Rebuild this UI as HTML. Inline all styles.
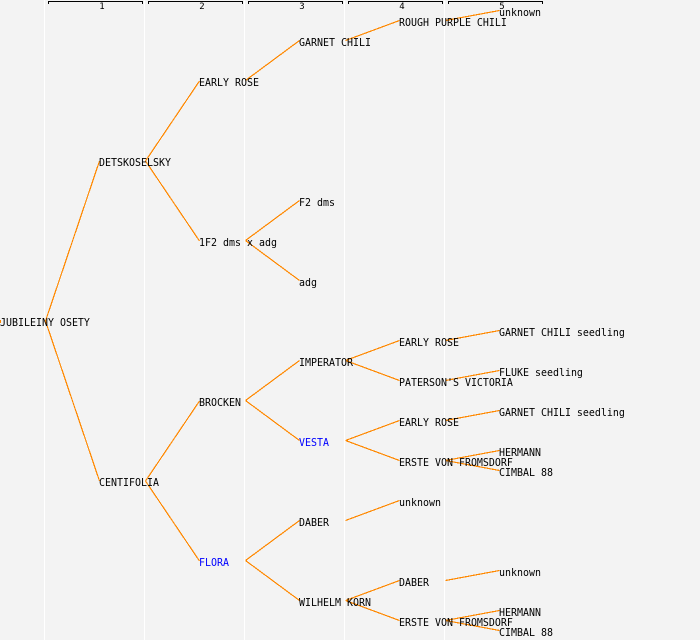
<!DOCTYPE html>
<html>
<head>
<meta charset="utf-8">
<style>
html,body{margin:0;padding:0;background:#f3f3f3;width:700px;height:640px;overflow:hidden}
svg{display:block}
.e line{stroke:#ff8800;stroke-width:1.2;shape-rendering:crispEdges}
.g line{stroke:#fff;stroke-width:1;shape-rendering:crispEdges}
.b path{stroke:#000;fill:none;stroke-width:1.2;shape-rendering:crispEdges}
text{font-family:"DejaVu Sans Mono","Liberation Mono",monospace;font-size:10px;fill:#000}
.n text{font-size:9px;text-anchor:middle}
</style>
</head>
<body>
<svg width="700" height="640" viewBox="0 0 700 640" xmlns="http://www.w3.org/2000/svg">
<rect width="700" height="640" fill="#f3f3f3"/>
<g class="g">
<line x1="44.5" y1="0" x2="44.5" y2="640"/>
<line x1="144.5" y1="0" x2="144.5" y2="640"/>
<line x1="244.5" y1="0" x2="244.5" y2="640"/>
<line x1="344.5" y1="0" x2="344.5" y2="640"/>
<line x1="444.5" y1="0" x2="444.5" y2="640"/>
</g>
<g class="b">
<path d="M48.5 4V1.5H142.5V4"/>
<path d="M148.5 4V1.5H242.5V4"/>
<path d="M248.5 4V1.5H342.5V4"/>
<path d="M348.5 4V1.5H442.5V4"/>
<path d="M448.5 4V1.5H542.5V4"/>
</g>
<g class="n">
<text x="102" y="9">1</text>
<text x="202" y="9">2</text>
<text x="302" y="9">3</text>
<text x="402" y="9">4</text>
<text x="502" y="9">5</text>
</g>
<g class="e">
<line x1="0.5" y1="320" x2="0.5" y2="323"/>
<line x1="45.5" y1="321" x2="99.5" y2="161"/>
<line x1="45.5" y1="321" x2="99.5" y2="481"/>
<line x1="145.5" y1="161" x2="199.5" y2="81"/>
<line x1="145.5" y1="161" x2="199.5" y2="241"/>
<line x1="145.5" y1="481" x2="199.5" y2="401"/>
<line x1="145.5" y1="481" x2="199.5" y2="561"/>
<line x1="245.5" y1="80.5" x2="299.5" y2="40.5"/>
<line x1="245.5" y1="240.5" x2="299.5" y2="200.5"/>
<line x1="245.5" y1="240.5" x2="299.5" y2="280.5"/>
<line x1="245.5" y1="400.5" x2="299.5" y2="360.5"/>
<line x1="245.5" y1="400.5" x2="299.5" y2="440.5"/>
<line x1="245.5" y1="560.5" x2="299.5" y2="520.5"/>
<line x1="245.5" y1="560.5" x2="299.5" y2="600.5"/>
<line x1="345.5" y1="40.5" x2="399.5" y2="20.5"/>
<line x1="345.5" y1="360.5" x2="399.5" y2="340.5"/>
<line x1="345.5" y1="360.5" x2="399.5" y2="380.5"/>
<line x1="345.5" y1="440.5" x2="399.5" y2="420.5"/>
<line x1="345.5" y1="440.5" x2="399.5" y2="460.5"/>
<line x1="345.5" y1="520.5" x2="399.5" y2="500.5"/>
<line x1="345.5" y1="600.5" x2="399.5" y2="580.5"/>
<line x1="345.5" y1="600.5" x2="399.5" y2="620.5"/>
<line x1="445.5" y1="20.5" x2="499.5" y2="10.5"/>
<line x1="445.5" y1="340.5" x2="499.5" y2="330.5"/>
<line x1="445.5" y1="380.5" x2="499.5" y2="370.5"/>
<line x1="445.5" y1="420.5" x2="499.5" y2="410.5"/>
<line x1="445.5" y1="460.5" x2="499.5" y2="450.5"/>
<line x1="445.5" y1="460.5" x2="499.5" y2="470.5"/>
<line x1="445.5" y1="580.5" x2="499.5" y2="570.5"/>
<line x1="445.5" y1="620.5" x2="499.5" y2="610.5"/>
<line x1="445.5" y1="620.5" x2="499.5" y2="630.5"/>
</g>
<g>
<text transform="translate(0,326) scale(.997,1.1)">JUBILEINY OSETY</text>
<text transform="translate(99,166) scale(.997,1.1)">DETSKOSELSKY</text>
<text transform="translate(99,486) scale(.997,1.1)">CENTIFOLIA</text>
<text transform="translate(199,86) scale(.997,1.1)">EARLY ROSE</text>
<text transform="translate(199,246) scale(.997,1.1)">1F2 dms x adg</text>
<text transform="translate(199,406) scale(.997,1.1)">BROCKEN</text>
<text transform="translate(199,566) scale(.997,1.1)" style="fill:#0000ff">FLORA</text>
<text transform="translate(299,46) scale(.997,1.1)">GARNET CHILI</text>
<text transform="translate(299,206) scale(.997,1.1)">F2 dms</text>
<text transform="translate(299,286) scale(.997,1.1)">adg</text>
<text transform="translate(299,366) scale(.997,1.1)">IMPERATOR</text>
<text transform="translate(299,446) scale(.997,1.1)" style="fill:#0000ff">VESTA</text>
<text transform="translate(299,526) scale(.997,1.1)">DABER</text>
<text transform="translate(299,606) scale(.997,1.1)">WILHELM KORN</text>
<text transform="translate(399,26) scale(.997,1.1)">ROUGH PURPLE CHILI</text>
<text transform="translate(399,346) scale(.997,1.1)">EARLY ROSE</text>
<text transform="translate(399,386) scale(.997,1.1)">PATERSON'S VICTORIA</text>
<text transform="translate(399,426) scale(.997,1.1)">EARLY ROSE</text>
<text transform="translate(399,466) scale(.997,1.1)">ERSTE VON FROMSDORF</text>
<text transform="translate(399,506) scale(.997,1.1)">unknown</text>
<text transform="translate(399,586) scale(.997,1.1)">DABER</text>
<text transform="translate(399,626) scale(.997,1.1)">ERSTE VON FROMSDORF</text>
<text transform="translate(499,16) scale(.997,1.1)">unknown</text>
<text transform="translate(499,336) scale(.997,1.1)">GARNET CHILI seedling</text>
<text transform="translate(499,376) scale(.997,1.1)">FLUKE seedling</text>
<text transform="translate(499,416) scale(.997,1.1)">GARNET CHILI seedling</text>
<text transform="translate(499,456) scale(.997,1.1)">HERMANN</text>
<text transform="translate(499,476) scale(.997,1.1)">CIMBAL 88</text>
<text transform="translate(499,576) scale(.997,1.1)">unknown</text>
<text transform="translate(499,616) scale(.997,1.1)">HERMANN</text>
<text transform="translate(499,636) scale(.997,1.1)">CIMBAL 88</text>
</g>
</svg>
</body>
</html>
